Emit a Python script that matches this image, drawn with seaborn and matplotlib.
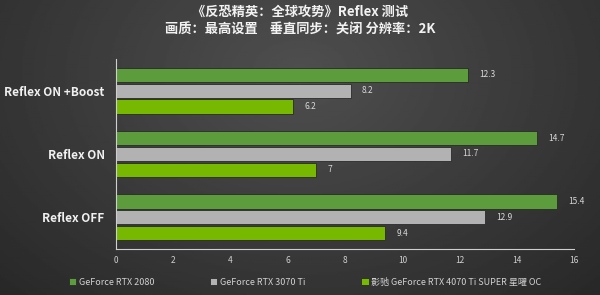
import numpy as np
import pandas as pd
import matplotlib
matplotlib.use('Agg')
import matplotlib.pyplot as plt
import seaborn as sns

# ── data ──────────────────────────────────────────────────────────────────────
modes  = ['Reflex ON +Boost', 'Reflex ON', 'Reflex OFF']
cards  = ['GeForce RTX 2080', 'GeForce RTX 3070 Ti',
          '影驰 GeForce RTX 4070 Ti SUPER 星曜 OC']
rtx2080   = [12.3, 14.7, 15.4]
rtx3070ti = [8.2, 11.7, 12.9]
rtx4070ts = [6.2, 7, 9.4]
x_ticks   = [0, 2, 4, 6, 8, 10, 12, 14, 16]

title = '《反恐精英：全球攻势》Reflex 测试\n画质：最高设置    垂直同步：关闭 分辨率：2K'

df = pd.DataFrame({
    'mode' : modes * 3,
    'card' : [cards[0]] * 3 + [cards[1]] * 3 + [cards[2]] * 3,
    'value': rtx2080 + rtx3070ti + rtx4070ts,
})

palette = ['#5c9c3c', '#b2b2b2', '#76b900']

# ── figure ────────────────────────────────────────────────────────────────────
sns.set_style('dark')
plt.rcParams['font.family'] = ['Noto Sans CJK SC', 'DejaVu Sans']

fig = plt.figure(figsize=(6, 2.95), dpi=100)

# dark radial-ish background
bg = fig.add_axes([0, 0, 1, 1], zorder=-10)
yy, xx = np.mgrid[0:1:200j, 0:1:400j]
r = np.sqrt(((xx - 0.5) / 0.75) ** 2 + ((yy - 0.25) / 1.1) ** 2)
bg.imshow(0.31 - 0.16 * r, cmap='gray', vmin=0, vmax=1, aspect='auto',
          extent=[0, 1, 1, 0])
bg.axis('off')

ax = fig.add_axes([0.193, 0.156, 0.764, 0.644])
ax.set_facecolor('none')

sns.barplot(data=df, y='mode', x='value', hue='card', order=modes,
            hue_order=cards, palette=palette, orient='h', width=0.75,
            gap=0.1, edgecolor='#2a2a2a', linewidth=0.6, ax=ax,
            saturation=1)

for cont in ax.containers:
    ax.bar_label(cont, labels=[f'{v:g}' for v in cont.datavalues],
                 padding=8, fontsize=6, color='#d8d8d8')

ax.set_xlim(0, 16)
ax.set_ylim(2.5, -0.5)
ax.set_xticks(x_ticks)
ax.set_xticklabels([str(t) for t in x_ticks])
ax.set_xlabel('')
ax.set_ylabel('')
ax.grid(False)

ax.set_yticks([-0.5, 0.5, 1.5, 2.5], minor=True)
ax.tick_params(axis='y', which='major', length=0, labelsize=8.5,
               labelcolor='#f0f0f0', pad=8)
ax.tick_params(axis='y', which='minor', length=3, color='#cfcfcf', width=0.8)
ax.tick_params(axis='x', direction='in', length=3, color='#cfcfcf',
               labelsize=6, labelcolor='#cfcfcf', pad=5, width=0.8)
for lab in ax.get_yticklabels():
    lab.set_fontweight('bold')

for side in ['top', 'right']:
    ax.spines[side].set_visible(False)
for side in ['left', 'bottom']:
    ax.spines[side].set_visible(True)
    ax.spines[side].set_color('#cfcfcf')
    ax.spines[side].set_linewidth(0.8)

fig.text(0.5, 0.985, title, ha='center', va='top', fontsize=9.5,
         fontweight='bold', color='#f2f2f2', linespacing=1.35)

handles, labels = ax.get_legend_handles_labels()
ax.legend_.remove()
fig.legend(handles, labels, loc='lower left', bbox_to_anchor=(0.101, 0.0),
           ncol=3, frameon=False, fontsize=6.5, labelcolor='#d0d0d0',
           handlelength=0.8, handleheight=0.8, handletextpad=0.3,
           columnspacing=6.2)

plt.savefig('out.png', dpi=100, facecolor='#333333')
